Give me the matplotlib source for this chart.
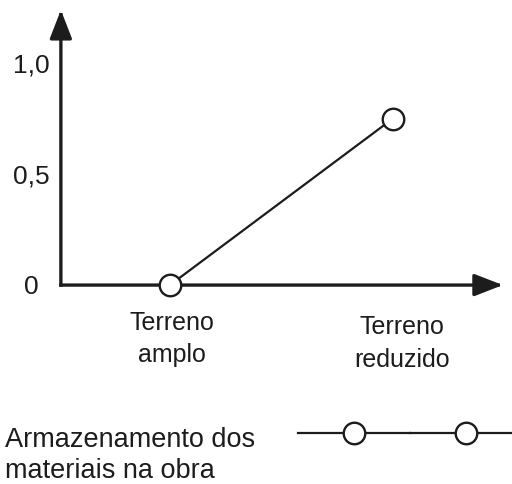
import matplotlib.pyplot as plt
from matplotlib.legend_handler import HandlerTuple

# chart data
categories = ["Terreno\namplo", "Terreno\nreduzido"]
values = [0.0, 0.75]
y_ticks = [0.0, 0.5, 1.0]
y_tick_labels = ["0", "0,5", "1,0"]
series_label = "Armazenamento dos\nmateriais na obra"

INK = "#1c1c1c"
plt.rcParams["font.family"] = ["Liberation Sans", "DejaVu Sans"]

fig = plt.figure(figsize=(5.12, 4.84), dpi=100)
ax = fig.add_axes([0, 0, 1, 1])
# limits chosen so the drawing sits where it does in the reference
ax.set_xlim(-0.762, 1.534)
ax.set_ylim(-0.896, 1.284)
ax.axis("off")

x = list(range(len(categories)))
x0, x_end, y_end = -0.489, 1.493, 1.239

# axes drawn as arrows
arrow = dict(arrowstyle="-|>,head_length=1.75,head_width=0.68", mutation_scale=10,
             lw=2.4, color=INK, shrinkA=0, shrinkB=0, capstyle="projecting")
ax.annotate("", xy=(x_end, 0), xytext=(x0, 0), arrowprops=arrow)
ax.annotate("", xy=(x0, y_end), xytext=(x0, 0), arrowprops=arrow)

# y tick labels (sit a touch below their level in the original)
for v, lab in zip(y_ticks, y_tick_labels):
    ax.text(-0.623, v - 0.009, lab, ha="center", va="center", fontsize=19, color=INK)

# category labels
label_dx = [0.01, 0.04]
label_y = [-0.243, -0.264]
for xi, lab, dx, ly in zip(x, categories, label_dx, label_y):
    ax.text(xi + dx, ly, lab, ha="center", va="center", fontsize=18,
            color=INK, linespacing=1.45)

line, = ax.plot(x, values, color=INK, lw=1.6, marker="o", ms=15.5,
                mfc="white", mec=INK, mew=1.7, zorder=5, clip_on=False)

# legend key (line with two open circles) and its label
ax.legend(handles=[(line, line)], labels=[""], loc="center left",
          bbox_to_anchor=(298 / 512, 49 / 484), bbox_transform=fig.transFigure,
          frameon=False, numpoints=1, handlelength=224 / 24.3, handletextpad=0,
          borderpad=0, borderaxespad=0, fontsize=17.5,
          handler_map={tuple: HandlerTuple(ndivide=None, pad=0)})
fig.text(5 / 512, 1 - 427 / 484, series_label, ha="left", va="top",
         fontsize=19.5, color=INK, linespacing=1.23)

fig.savefig("out.png", dpi=100)
